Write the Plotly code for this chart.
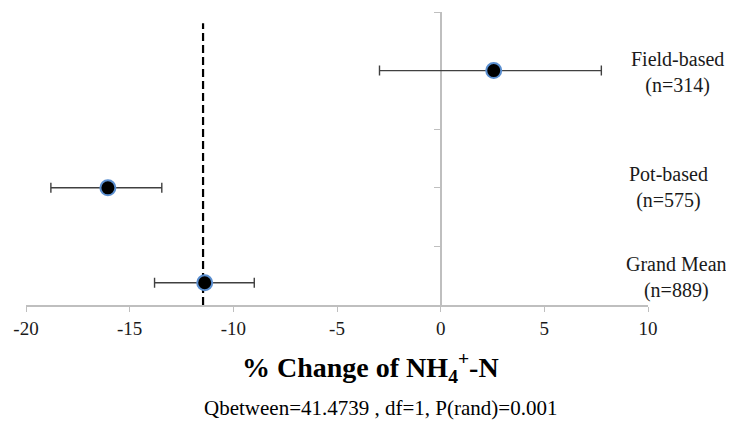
import plotly.graph_objects as go

# ---- data ----
groups = ["Field-based", "Pot-based", "Grand Mean"]
n_obs = [314, 575, 889]
means = [2.56, -16.05, -11.38]
ci_low = [-2.95, -18.8, -13.8]
ci_high = [7.75, -13.45, -8.99]
y_pos = [4.0, 2.0, 0.38]
grand_mean_line = -11.46
x_ticks = [-20, -15, -10, -5, 0, 5, 10]
footnote = "Qbetween=41.4739 , df=1, P(rand)=0.001"

SERIF = "Liberation Serif, Times New Roman, serif"
AXIS_GRAY = "#bfbfbf"
Y_MAX = 5

err_plus = [h - m for h, m in zip(ci_high, means)]
err_minus = [m - l for m, l in zip(means, ci_low)]

fig = go.Figure()
fig.add_trace(go.Scatter(
    x=means, y=y_pos, mode="markers",
    marker=dict(size=15, color="black", line=dict(color="#5b8fd0", width=2)),
    error_x=dict(type="data", symmetric=False, array=err_plus, arrayminus=err_minus,
                 color="#404040", thickness=1.4, width=5),
    showlegend=False, cliponaxis=False,
))

# dashed grand-mean line
fig.add_shape(type="line", xref="x", yref="y", x0=grand_mean_line, x1=grand_mean_line,
              y0=0, y1=4.81, line=dict(color="black", width=2.2, dash="8px,4px"), layer="below")

# group labels on the right (paper coords so they are not hidden outside the range)
label_x = [1.047, 1.033, 1.046]
label_y = [3.96, 2.0, 0.47]
for g, n, xx, yy in zip(groups, n_obs, label_x, label_y):
    fig.add_annotation(x=xx, y=yy / Y_MAX, xref="paper", yref="paper",
                       text=f"{g}<br>(n={n})", showarrow=False,
                       font=dict(family=SERIF, size=20, color="#1a1a1a"),
                       align="center", xanchor="center", yanchor="middle")

# axis title and footnote
fig.add_annotation(x=0.554, y=-0.215, xref="paper", yref="paper",
                   text="<b>% Change of NH<sub>4</sub><sup>+</sup>-N</b>", showarrow=False,
                   font=dict(family=SERIF, size=28, color="black"),
                   xanchor="center", yanchor="middle")
fig.add_annotation(x=0.57, y=-0.351, xref="paper", yref="paper",
                   text=footnote, showarrow=False,
                   font=dict(family=SERIF, size=21, color="black"),
                   xanchor="center", yanchor="middle")

fig.update_layout(
    width=726, height=415,
    margin=dict(l=18, r=86, t=4, b=118, autoexpand=False),
    plot_bgcolor="white", paper_bgcolor="white",
    xaxis=dict(range=[-20, 10], domain=[0, 1], tickvals=x_ticks,
               ticktext=[str(t) for t in x_ticks],
               showgrid=False, zeroline=False,
               showline=True, linecolor=AXIS_GRAY, linewidth=1.5,
               ticks="outside", ticklen=5, tickcolor=AXIS_GRAY, tickwidth=1.2,
               tickfont=dict(family=SERIF, size=19, color="#1a1a1a"),
               anchor="y", layer="below traces"),
    yaxis=dict(range=[0, Y_MAX], anchor="free", position=2/3,
               tickvals=[0, 1, 2, 3, 4, 5], showticklabels=False,
               showgrid=False, zeroline=False,
               showline=True, linecolor=AXIS_GRAY, linewidth=1.5,
               ticks="outside", ticklen=6, tickcolor=AXIS_GRAY, tickwidth=1.2,
               layer="below traces"),
)

fig.write_html("out.html")
